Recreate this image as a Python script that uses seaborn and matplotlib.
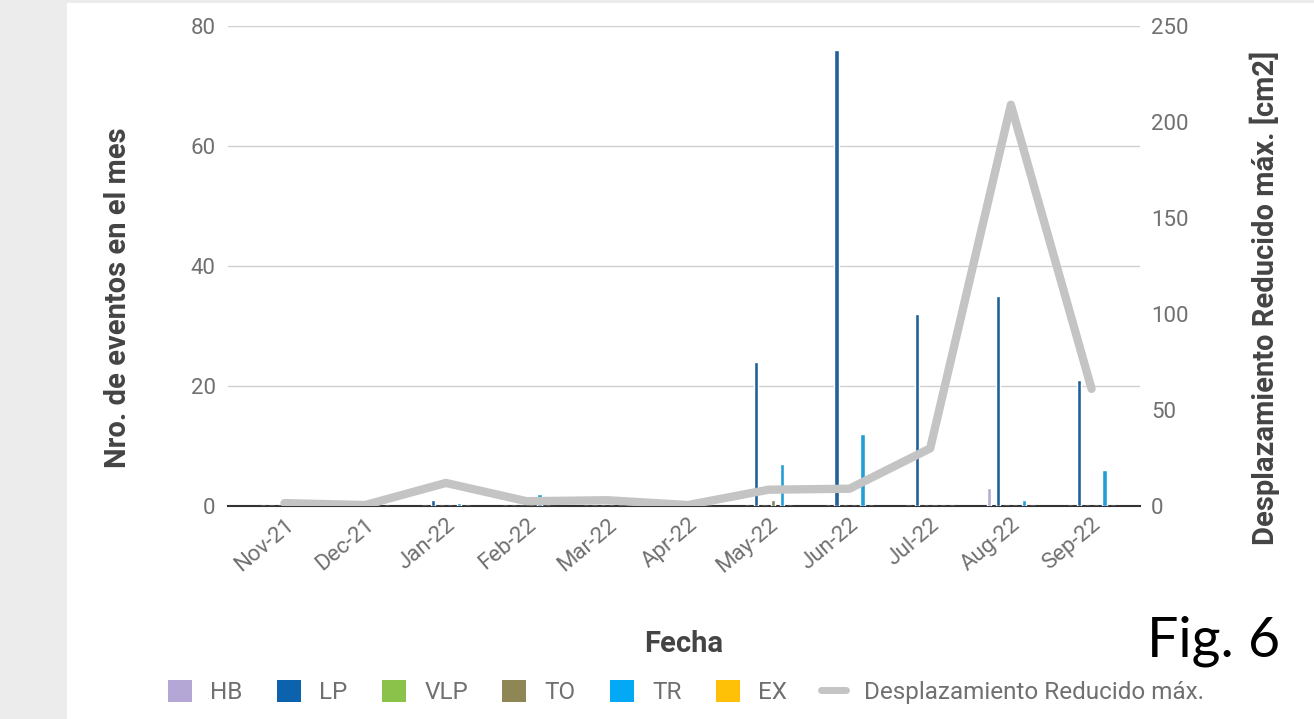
import numpy as np
import pandas as pd
import seaborn as sns
import matplotlib.pyplot as plt
from matplotlib.patches import Patch, Rectangle
from matplotlib.lines import Line2D

months = ['Nov-21', 'Dec-21', 'Jan-22', 'Feb-22', 'Mar-22', 'Apr-22',
          'May-22', 'Jun-22', 'Jul-22', 'Aug-22', 'Sep-22']
types = ['HB', 'LP', 'VLP', 'TO', 'TR', 'EX']

hb = [0, 0, 0, 0, 0, 0, 0, 0, 0, 3, 0]
lp = [0, 0, 1, 0, 0, 0, 24, 76, 32, 35, 21]
vlp = [0, 0, 0, 0, 0, 0, 0, 0, 0, 0, 0]
to = [0, 0, 0, 0, 0, 0, 1, 0, 0, 0, 0]
tr = [0, 0, 0.5, 2, 0, 0, 7, 12, 0, 1, 6]
ex = [0, 0, 0, 0, 0, 0, 0, 0, 0, 0, 0]

# desplazamiento reducido max [cm2]
desp = [1.5, 0.5, 12, 2.5, 3, 0.5, 8.5, 9, 30, 209, 61]

colors = ['#b4a7d6', '#0d62ad', '#8bc34a', '#8e8654', '#03a9f4', '#ffc107']
line_col = '#c4c4c4'

rows = []
for t, vals in zip(types, [hb, lp, vlp, to, tr, ex]):
    for m, v in zip(months, vals):
        rows.append({'Fecha': m, 'tipo': t, 'n': v})
df = pd.DataFrame(rows)

sns.set_style('white')
plt.rcParams['font.family'] = ['Roboto', 'DejaVu Sans']

fig = plt.figure(figsize=(13.14, 7.19), dpi=100)
fig.patch.set_facecolor('#ececec')
fig.patches.append(Rectangle((67 / 1314, 0), 1 - 67 / 1314, 1 - 3 / 719,
                             transform=fig.transFigure, facecolor='white',
                             edgecolor='none', zorder=-10))

ax = fig.add_axes([228 / 1314, 213 / 719, 912 / 1314, 480 / 719])
ax.set_facecolor('none')

sns.barplot(data=df, x='Fecha', y='n', hue='tipo', palette=colors,
            width=0.64, gap=0.5, ax=ax, legend=False, zorder=3)

ax.set_ylim(0, 80)
ax.set_yticks([0, 20, 40, 60, 80])
ax.set_xlim(-0.7, 10.6)
ax.yaxis.grid(True, color='#d0d0d0', linewidth=1)
ax.set_axisbelow(True)
for s in ['top', 'right', 'left']:
    ax.spines[s].set_visible(False)
ax.spines['bottom'].set_color('#333333')
ax.spines['bottom'].set_linewidth(1.5)
ax.tick_params(axis='both', length=0, labelsize=16, labelcolor='#707070')
ax.tick_params(axis='y', pad=9)
ax.tick_params(axis='x', pad=6)
for lab in ax.get_xticklabels():
    lab.set_rotation(40)
    lab.set_ha('right')
    lab.set_rotation_mode('anchor')
ax.set_ylabel('Nro. de eventos en el mes', fontsize=21, fontweight='bold',
              color='#444444')
ax.yaxis.set_label_coords(-0.105, 0.433)
ax.set_xlabel('Fecha', fontsize=21, fontweight='bold', color='#444444',
              labelpad=38)

ax2 = ax.twinx()
sns.lineplot(x=np.arange(len(months)), y=desp, ax=ax2, color=line_col,
             linewidth=6, zorder=5)
ax2.set_ylim(0, 250)
ax2.set_yticks([0, 50, 100, 150, 200, 250])
for s in ['top', 'right', 'left', 'bottom']:
    ax2.spines[s].set_visible(False)
ax2.tick_params(axis='y', length=0, labelsize=16, labelcolor='#707070', pad=8)
ax2.set_ylabel('Desplazamiento Reducido máx. [cm2]', fontsize=21,
               fontweight='bold', color='#444444')
ax2.yaxis.set_label_coords(1.12, 0.433)

handles = [Patch(facecolor=c, edgecolor='none') for c in colors]
handles.append(Line2D([0], [0], color=line_col, linewidth=5))
labels = types + ['Desplazamiento Reducido máx.']
fig.legend(handles, labels, loc='center', bbox_to_anchor=(0.522, 27 / 719),
           ncol=7, frameon=False, fontsize=17.5, handlelength=1.0,
           handleheight=1.0, columnspacing=1.4, handletextpad=0.75,
           labelcolor='#707070')

fig.text(1280 / 1314, 78 / 719, 'Fig. 6', fontsize=40, color='black',
         ha='right', va='center', family=['Lato', 'DejaVu Sans'])

fig.savefig('out.png', dpi=100)
